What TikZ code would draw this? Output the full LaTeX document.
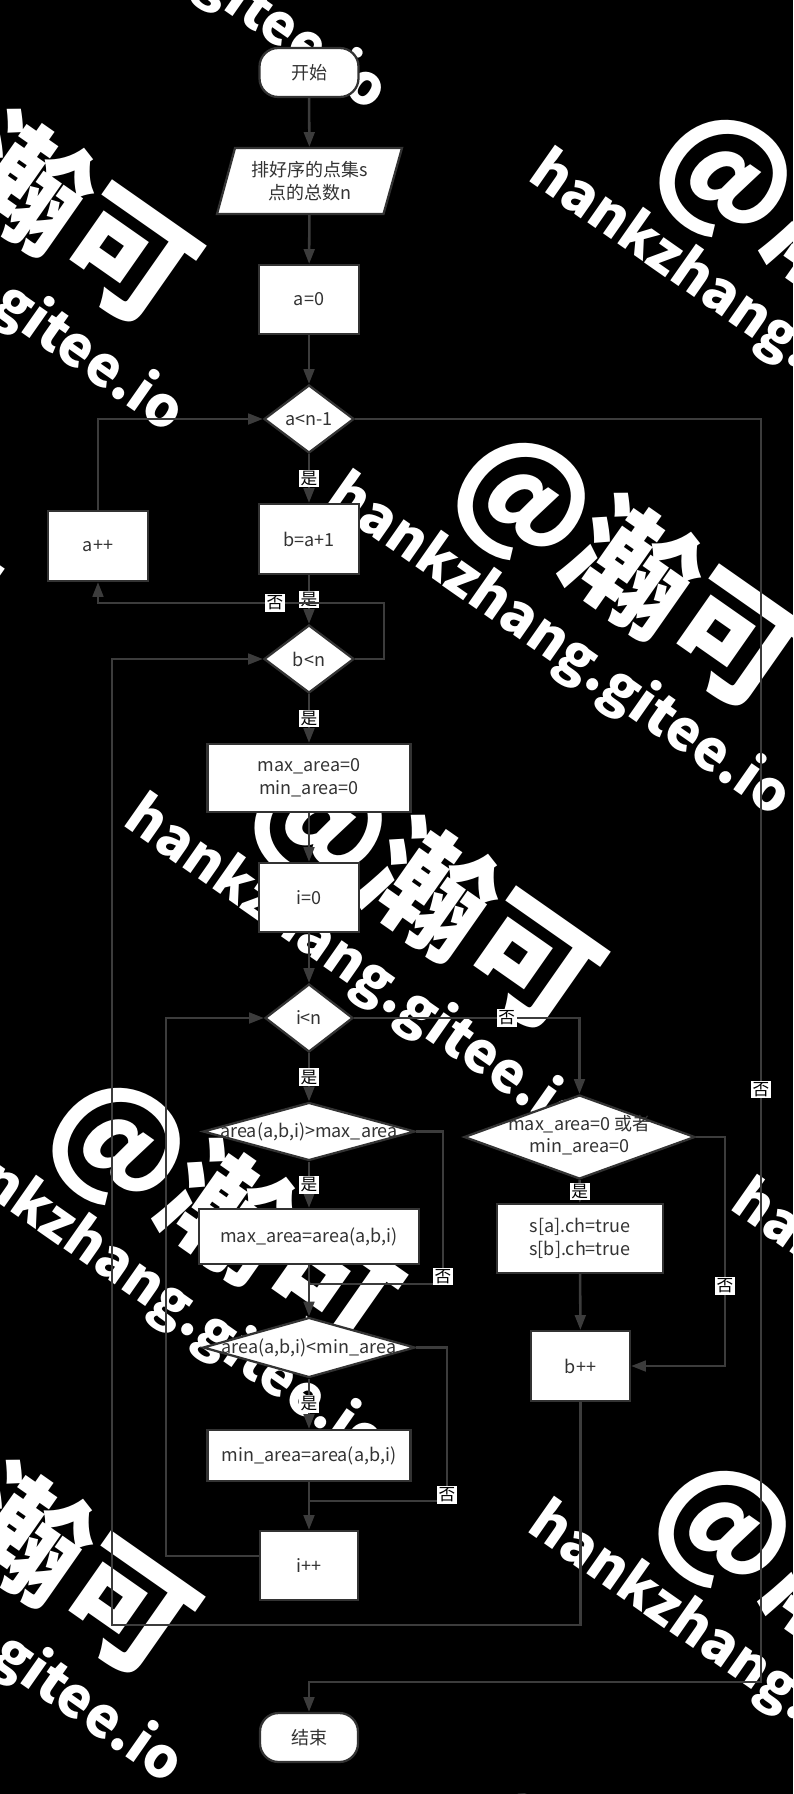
\documentclass[tikz,border=0pt]{standalone}
\usepackage{fontspec}
\setmainfont{Noto Sans CJK SC}
\usetikzlibrary{arrows.meta,shapes.geometric,calc}
\definecolor{bord}{HTML}{333333}
\definecolor{conncol}{HTML}{3C3C3C}
\definecolor{txt}{HTML}{333333}
\begin{document}
\begin{tikzpicture}[x=0.75pt,y=-0.75pt,
  base/.style={draw=bord, line width=1.7pt, fill=white, text=txt, font=\fontsize{13.5}{17}\selectfont, inner sep=0pt, align=center},
  procbox/.style={base, rectangle},
  dia/.style={base, diamond, aspect=1},
  term/.style={base, rectangle, rounded corners=14pt},
  lbl/.style={fill=white, text=black, font=\fontsize{12.5}{13}\selectfont, inner sep=1.2pt},
  conn/.style={draw=conncol, line width=1.9pt},
  arr/.style={conn, -{Triangle[length=11pt,width=8pt]}},
  wmA/.style={text=white, font=\bfseries\fontsize{95}{95}\selectfont, rotate=-35, inner sep=0pt},
  wmB/.style={text=white, font=\bfseries\fontsize{42}{42}\selectfont, rotate=-35, inner sep=0pt}
]
\fill[black] (0,0) rectangle (793,1794);
\useasboundingbox (0,0) rectangle (793,1794);

% watermark
\begin{scope}
\clip (0,0) rectangle (793,1794);
\foreach \px/\py [count=\k] in {727/175, 525/498, 322/820, 120/1143, -83/1465, -82/114, -284/437, 121/-208, 726/1526, 524/1849, 929/1204}{
  \node[wmA] (wa\k) at (\px+103,\py+72) {@瀚可};
  \node[wmB] (wb\k) at (\px+34,\py+149) {hankzhang.gitee.io};
}
\end{scope}

% input parallelogram shape
\draw[draw=bord, line width=1.7pt, fill=white] (235,148) -- (402,148) -- (383.5,214) -- (217,214) -- cycle;

% nodes
\node[term, minimum width=74.25pt, minimum height=36.75pt] (start) at (309,72.5) {开始};
\node[base, draw=none, fill=none, minimum width=138.75pt, minimum height=49.5pt] (in) at (309.5,181) {排好序的点集s\\点的总数n};
\node[procbox, minimum width=75pt, minimum height=51.75pt] (a0) at (309,299.5) {a=0};
\node[dia, minimum width=67.5pt, minimum height=51pt] (c1) at (309,419) {\makebox[0pt]{a<n-1}};
\node[procbox, minimum width=75pt, minimum height=52.5pt] (ba1) at (309,539) {b=a+1};
\node[procbox, minimum width=75pt, minimum height=52.5pt] (app) at (98,546) {a++};
\node[dia, minimum width=67.5pt, minimum height=51pt] (c2) at (309,659) {\makebox[0pt]{b<n}};
\node[procbox, minimum width=152.25pt, minimum height=51pt] (mx0) at (309,778) {max\_area=0\\min\_area=0};
\node[procbox, minimum width=75pt, minimum height=51.75pt] (i0) at (309,897.5) {i=0};
\node[dia, minimum width=66pt, minimum height=51pt] (c3) at (309,1018) {\makebox[0pt]{i<n}};
\node[dia, minimum width=159pt, minimum height=43.5pt] (c4) at (309,1131.5) {\makebox[0pt]{area(a,b,i)>max\_area}};
\node[procbox, minimum width=165pt, minimum height=41.25pt] (mxa) at (309,1236.5) {max\_area=area(a,b,i)};
\node[dia, minimum width=159pt, minimum height=45pt] (c5) at (309,1347.5) {\makebox[0pt]{area(a,b,i)<min\_area}};
\node[procbox, minimum width=152.25pt, minimum height=38.25pt] (mna) at (309,1455.5) {min\_area=area(a,b,i)};
\node[procbox, minimum width=73.5pt, minimum height=51.75pt] (ipp) at (309,1565.5) {i++};
\node[term, minimum width=73.5pt, minimum height=36.75pt] (end) at (309,1737.5) {结束};
\node[dia, minimum width=173.25pt, minimum height=63pt] (c6) at (579.5,1137) {\makebox[0pt]{\begin{tabular}{@{}c@{}}max\_area=0 或者\\[-1pt]min\_area=0\end{tabular}}};
\node[procbox, minimum width=124.5pt, minimum height=51.75pt] (sab) at (580,1238.5) {s[a].ch=true\\s[b].ch=true};
\node[procbox, minimum width=74.25pt, minimum height=52.5pt] (bpp) at (580.5,1366) {b++};

% connectors
\draw[arr] (start) -- (in);
\draw[arr] (in) -- (a0);
\draw[arr] (a0) -- (c1);
\draw[arr] (c1) -- node[lbl]{是} (ba1);
\draw[arr] (ba1) -- node[lbl]{是} (c2);
\draw[arr] (c2.east) -- (384,659) -- (384,603) -- node[lbl,pos=0.381]{否} (98,603) -- (app.south);
\draw[arr] (app.north) |- (c1.west);
\draw[arr] (c1.east) -- (761,419) -- node[lbl,pos=0.531]{否} (761,1682) -| (end.north);
\draw[arr] (c2) -- node[lbl]{是} (mx0);
\draw[arr] (mx0) -- (i0);
\draw[arr] (i0) -- (c3);
\draw[arr] (c3) -- node[lbl]{是} (c4);
\draw[arr] (c3.east) -- node[lbl,pos=0.677]{否} (c3.east -| c6.north) -- (c6.north);
\draw[arr] (c4) -- node[lbl]{是} (mxa);
\draw[arr] (mxa) -- (c5);
\draw[conn] (c4.east) -- (443,1131.5) -- node[lbl,pos=0.95]{否} (443,1284) -- (309,1284);
\draw[arr] (c5) -- node[lbl]{是} (mna);
\draw[arr] (mna) -- (ipp);
\draw[conn] (c5.east) -- (447,1347.5) -- node[lbl,pos=0.96]{否} (447,1501) -- (309,1501);
\draw[arr] ($(ipp.west)+(0,-9.5)$) -- (166,1556) -- (166,1018) -- (c3.west);
\draw[arr] (c6) -- node[lbl]{是} (sab);
\draw[arr] (sab) -- (bpp);
\draw[arr] (c6.east) -- (725,1137) -- node[lbl,pos=0.65]{否} (725,1366) -- (bpp.east);
\draw[arr] (bpp.south) -- (580.5,1625) -- (112,1625) -- (112,659) -- (c2.west);
\end{tikzpicture}
\end{document}
